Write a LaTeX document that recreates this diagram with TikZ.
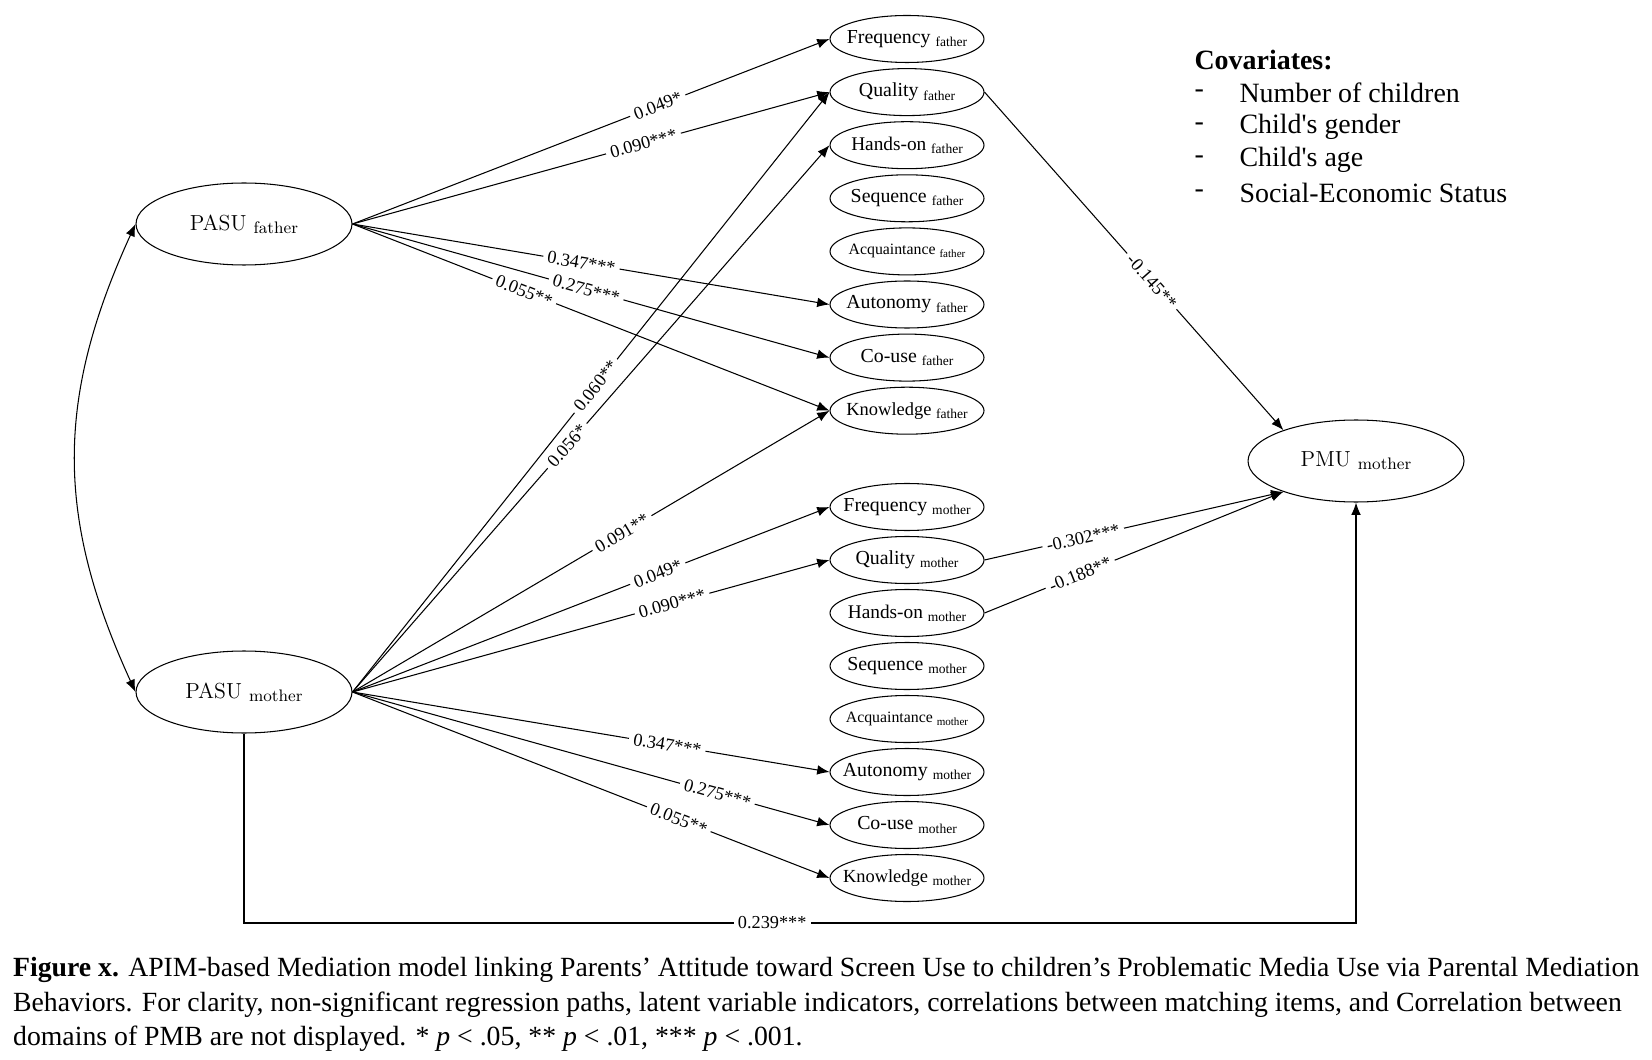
\documentclass[tikz,border=0pt]{standalone}
\usepackage{fontspec}
\setmainfont{Liberation Serif}
\newfontfamily\lmr{Latin Modern Roman}
\usetikzlibrary{arrows.meta, shapes.geometric}
\newcommand\low[2]{\raisebox{-.35ex}{\fontsize{#1}{#1}\selectfont #2}}

\begin{document}
\begin{tikzpicture}[>={Latex[length=7pt,width=5.5pt]}, line width=.6pt, x=.02cm, y=-.02cm,
  lat/.style={ellipse, draw, minimum width=4.32cm, minimum height=1.64cm, inner sep=0pt,
    font=\lmr\fontsize{12.4}{13}\selectfont},
  ind/.style={ellipse, draw, minimum width=3.08cm, minimum height=.94cm, inner sep=0pt},
  lab/.style={fill=white, inner sep=2.5pt, sloped, font=\fontsize{10.4}{11}\selectfont},
  cov/.style={anchor=west, inner sep=0pt, font=\fontsize{15.9}{19}\selectfont}]
  \useasboundingbox (0,0) rectangle (1652,1060);
  \node[lat] (pf) at (244,224) {\makebox[0pt]{PASU \low{9.5}{father}}};
  \node[lat] (pm) at (244,692) {\makebox[0pt]{PASU \low{9.5}{mother}}};
  \node[lat] (pmu) at (1356,461) {\makebox[0pt]{PMU \low{9.5}{mother}}};
  \foreach \n/\t/\s/\u [count=\i from 0] in {freq/Frequency/11.3/7.7, qual/Quality/11.3/7.7,
      hands/Hands-on/11/7.7, seq/Sequence/11.3/7.7, acq/Acquaintance/9/6.3,
      auto/Autonomy/11.3/7.7, couse/Co-use/11.3/7.7, know/Knowledge/10.5/7.7} {
    \node[ind, font=\fontsize{\s}{\s}\selectfont] (\n-f) at (907,39+53.1*\i) {\makebox[0pt]{\t\ \low{\u}{father}}};
    \node[ind, font=\fontsize{\s}{\s}\selectfont] (\n-m) at (907,507+53*\i) {\makebox[0pt]{\t\ \low{\u}{mother}}};
  }
  \draw[<->] (pf.west) .. controls +(-80,175) and +(-80,-175) .. (pm.west);
  \foreach \t/\v/\p in {freq-f/0.049*/.64, qual-f/0.090***/.61, auto-f/0.347***/.48,
      couse-f/0.275***/.49, know-f/0.055**/.36}
    \draw[->] (pf.east) -- node[lab, pos=\p] {\v} (\t.west);
  \foreach \t/\v/\p in {qual-f/0.060**/.51, hands-f/0.056*/.45, know-f/0.091**/.565,
      freq-m/0.049*/.64, qual-m/0.090***/.67, auto-m/0.347***/.66,
      couse-m/0.275***/.765, know-m/0.055**/.684}
    \draw[->] (pm.east) -- node[lab, pos=\p] {\v} (\t.west);
  \draw[->] (qual-f.east) -- node[lab, pos=.56] {-0.145**} (pmu.157);
  \draw[->] (qual-m.east) -- node[lab, pos=.33] {-0.302***} (pmu.203);
  \draw[->] (hands-m.east) -- node[lab, pos=.32] {-0.188**} (pmu.203);
  \coordinate (base) at (0,923);
  \draw[->] (pm.south) -- (pm.south |- base) -- node[lab, pos=.475] {0.239***}
    (pmu.south |- base) -- (pmu.south);
  \node[cov, font=\bfseries\fontsize{15.9}{19}\selectfont] (covh) at (1194,60) {Covariates:};
  \foreach \c [count=\i] in {Number of children, Child\textquotesingle s gender,
      Child\textquotesingle s age, Social-Economic Status} {
    \node[cov] (dash\i) at (1194,60+33.3*\i) {-};
    \node[cov] (cov\i) at (1239,60+33.3*\i) {\c};
  }
  \node[anchor=north west, align=left, inner sep=0pt, font=\fontsize{15.8}{19.5}\selectfont] (cap)
    at (12.6,957) {\textbf{Figure x.} APIM-based Mediation model linking Parents’ Attitude toward Screen Use to children’s Problematic Media Use via Parental Mediation\\
    Behaviors. For clarity, non-significant regression paths, latent variable indicators, correlations between matching items, and Correlation between\\
    domains of PMB are not displayed. * \textit{p} < .05, ** \textit{p} < .01, *** \textit{p} < .001.};
\end{tikzpicture}
\end{document}
